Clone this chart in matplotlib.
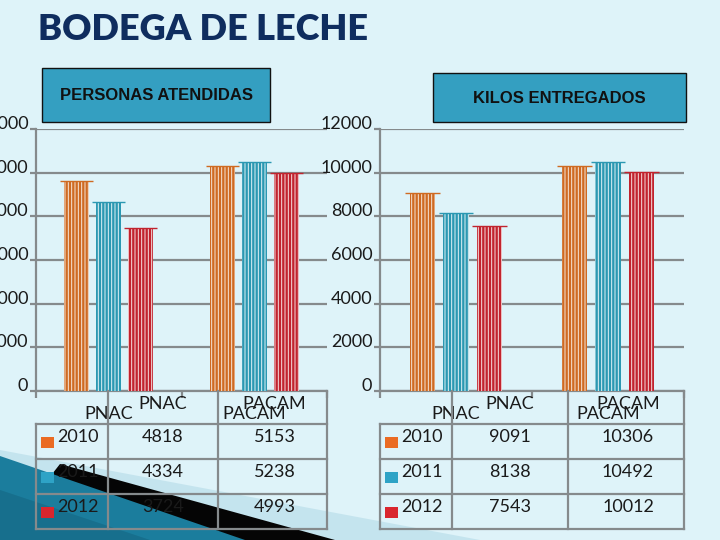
import numpy as np
import matplotlib.pyplot as plt
from matplotlib.patches import Rectangle, Polygon
from matplotlib.lines import Line2D

# data
categories = ['PNAC', 'PACAM']
years = ['2010', '2011', '2012']
personas_2010 = [4818, 5153]
personas_2011 = [4334, 5238]
personas_2012 = [3724, 4993]
kilos_2010 = [9091, 10306]
kilos_2011 = [8138, 10492]
kilos_2012 = [7543, 10012]

bar_colors = ['#cf6a22', '#2b98b2', '#c1232e']
square_colors = ['#ea6b23', '#2ea3c6', '#d9262e']
stripe_colors = ['#f6e7da', '#e2f3f7', '#f6dfe0']
bg = '#def3f9'
grey = '#858a8c'

W, H = 720, 540
def fx(x):
    return x / W
def fy(y):
    return 1 - y / H

plt.rcParams['font.family'] = ['Lato', 'DejaVu Sans']
plt.rcParams['hatch.linewidth'] = 0.7

fig = plt.figure(figsize=(7.2, 5.4), dpi=100, facecolor=bg)

# decoration in the lower left corner
def poly(pts, color, z):
    fig.patches.append(Polygon([(fx(x), fy(y)) for x, y in pts], closed=True,
                               transform=fig.transFigure, facecolor=color,
                               edgecolor='none', zorder=z))
poly([(0, 450), (480, 540), (0, 540)], '#c4e4ee', 0)
poly([(60, 464), (335, 540), (0, 540)], '#050505', 0)
poly([(0, 456), (245, 540), (0, 540)], '#1b7d9d', 0)
poly([(0, 490), (150, 540), (0, 540)], '#176f8d', 0)

# title
fig.text(fx(38), fy(30), 'BODEGA DE LECHE', fontsize=26, fontweight='heavy',
         color='#0f2d5f', ha='left', va='center')

# title boxes
def title_box(x0, y0, x1, y1, label):
    fig.patches.append(Rectangle((fx(x0), fy(y1)), (x1 - x0) / W, (y1 - y0) / H,
                                 transform=fig.transFigure, facecolor='#349fc1',
                                 edgecolor='#111111', lw=1, zorder=3))
    fig.text(fx((x0 + x1) / 2), fy((y0 + y1) / 2 + 1), label, family='Liberation Sans',
             fontsize=12, fontweight='bold', color='#111111', ha='center',
             va='center', zorder=4)

title_box(42, 68, 270, 122, 'PERSONAS ATENDIDAS')
title_box(433, 73, 686, 122, 'KILOS ENTREGADOS')


def draw_chart(left, right, series, ymax, step, cols):
    ax = fig.add_axes([fx(left), fy(391), (right - left) / W, (391 - 129) / H])
    ax.set_facecolor('none')
    x = np.arange(len(categories))
    offsets = [-0.22, 0.0, 0.22]
    w = 0.17
    for vals, off, c, sc in zip(series, offsets, bar_colors, stripe_colors):
        ax.bar(x + off, vals, w, color=c, edgecolor=sc, linewidth=0,
               hatch='|||||', zorder=3)
        ax.hlines(vals, x + off - w / 2 - 0.03, x + off + w / 2 + 0.03,
                  color=c, lw=1, zorder=3)
    ax.set_xlim(-0.5, 1.5)
    ax.set_ylim(0, ymax)
    ticks = np.arange(0, ymax + 1, step)
    ax.set_yticks(ticks, labels=[str(t) for t in ticks])
    for lbl in ax.get_yticklabels():
        lbl.set_verticalalignment('baseline')
    ax.grid(axis='y', color=grey, lw=1.6)
    ax.set_axisbelow(True)
    for s in ['top', 'right']:
        ax.spines[s].set_visible(False)
    for s in ['left', 'bottom']:
        ax.spines[s].set_color(grey)
        ax.spines[s].set_linewidth(1.6)
    ax.tick_params(axis='y', length=4.5, width=1.6, color=grey, pad=1,
                   labelsize=13, labelcolor='#1a1a1a')
    ax.set_xticks(x, labels=categories)
    ax.set_xticks([-0.5, 0.5, 1.5], minor=True)
    ax.tick_params(axis='x', which='major', length=0, pad=11, labelsize=13,
                   labelcolor='#1a1a1a')
    ax.tick_params(axis='x', which='minor', length=5, width=1.6, color=grey)

    # data table under the chart
    c1, c2 = cols
    def line(xs, ys):
        fig.add_artist(Line2D([fx(v) for v in xs], [fy(v) for v in ys],
                              color=grey, lw=1.6, zorder=5))
    for yy in [424, 459, 494, 529]:
        line([left, right], [yy, yy])
    line([left, left], [424, 529])
    for xx in [c1, c2, right]:
        line([xx, xx], [391, 529])
    fig.text(fx((c1 + c2) / 2), fy(404), categories[0], fontsize=13,
             color='#1a1a1a', ha='center', va='center', zorder=6)
    fig.text(fx((c2 + right) / 2 + 2), fy(404), categories[1], fontsize=13,
             color='#1a1a1a', ha='center', va='center', zorder=6)
    for i, (yr, vals) in enumerate(zip(years, series)):
        yc = 437 + 35 * i
        fig.patches.append(Rectangle((fx(left + 5), fy(yc + 11)), 13 / W, 11 / H,
                                     transform=fig.transFigure,
                                     facecolor=square_colors[i], edgecolor='none',
                                     zorder=6))
        fig.text(fx(left + 21), fy(yc), yr, fontsize=13, color='#1a1a1a',
                 ha='left', va='center', zorder=6)
        fig.text(fx((c1 + c2) / 2), fy(yc), str(vals[0]), fontsize=13,
                 color='#1a1a1a', ha='center', va='center', zorder=6)
        fig.text(fx((c2 + right) / 2 + 2), fy(yc), str(vals[1]), fontsize=13,
                 color='#1a1a1a', ha='center', va='center', zorder=6)
    return ax


draw_chart(36, 327, [personas_2010, personas_2011, personas_2012], 6000, 1000,
           (108, 218))
draw_chart(380, 684, [kilos_2010, kilos_2011, kilos_2012], 12000, 2000,
           (452, 568))

fig.savefig('out.png', dpi=100, facecolor=bg)
